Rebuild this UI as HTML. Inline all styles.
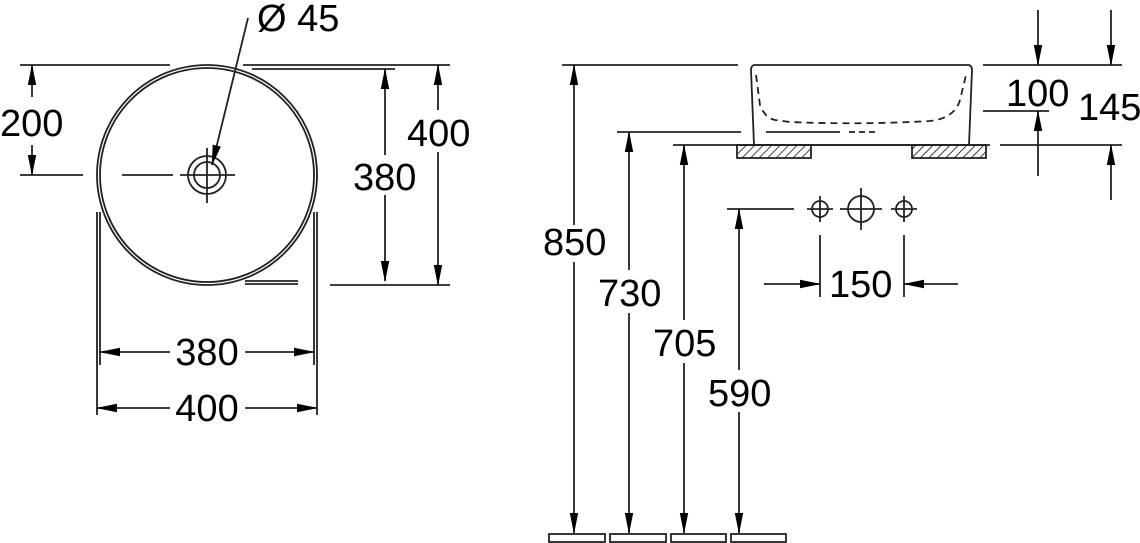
<!DOCTYPE html>
<html><head><meta charset="utf-8"><style>
html,body{margin:0;padding:0;background:#fff;}
svg{display:block;}
text{font-family:"Liberation Sans",sans-serif;font-size:38px;fill:#000;}
</style></head><body>
<svg width="1140" height="543" viewBox="0 0 1140 543" xmlns="http://www.w3.org/2000/svg">
<defs>
<marker id="a" markerWidth="22" markerHeight="10" refX="20" refY="5" orient="auto" markerUnits="userSpaceOnUse" viewBox="0 0 22 10">
<path d="M0,0.8 L21,5 L0,9.2 z" fill="#000"/></marker>
<pattern id="h" width="6" height="6" patternUnits="userSpaceOnUse" patternTransform="rotate(45)"><line x1="0" y1="0" x2="0" y2="6" stroke="#000" stroke-width="1.5"/></pattern>
</defs>
<g stroke="#222" stroke-width="1.8" fill="none">
<circle cx="207" cy="175" r="110"/>
<circle cx="207" cy="175" r="107"/>
<circle cx="207" cy="175" r="19"/>
<circle cx="207" cy="175" r="13"/>
<line x1="20" y1="65" x2="170" y2="65"/>
<line x1="243" y1="65" x2="450" y2="65"/>
<line x1="252" y1="69" x2="395" y2="69"/>
<line x1="330" y1="285" x2="450" y2="285"/>
<line x1="245" y1="281" x2="298" y2="281"/>
<line x1="245" y1="284" x2="298" y2="284"/>
<line x1="20" y1="175" x2="83" y2="175"/>
<line x1="122" y1="175" x2="173" y2="175"/>
<line x1="180" y1="175" x2="235" y2="175"/>
<line x1="207" y1="148" x2="207" y2="203"/>
<line x1="97" y1="212" x2="97" y2="415"/>
<line x1="100" y1="212" x2="100" y2="365"/>
<line x1="314" y1="212" x2="314" y2="365"/>
<line x1="317" y1="212" x2="317" y2="415"/>
<line x1="32" y1="97" x2="32" y2="65" marker-end="url(#a)"/>
<line x1="32" y1="145" x2="32" y2="175" marker-end="url(#a)"/>
<line x1="385" y1="155" x2="385" y2="69" marker-end="url(#a)"/>
<line x1="385" y1="195" x2="385" y2="281" marker-end="url(#a)"/>
<line x1="438" y1="110" x2="438" y2="65" marker-end="url(#a)"/>
<line x1="438" y1="152" x2="438" y2="285" marker-end="url(#a)"/>
<line x1="170" y1="352" x2="100" y2="352" marker-end="url(#a)"/>
<line x1="245" y1="352" x2="314" y2="352" marker-end="url(#a)"/>
<line x1="170" y1="408" x2="97" y2="408" marker-end="url(#a)"/>
<line x1="245" y1="408" x2="317" y2="408" marker-end="url(#a)"/>
<line x1="248" y1="18" x2="212" y2="165" marker-end="url(#a)"/>
<line x1="562" y1="65" x2="738" y2="65"/>
<path d="M754,65 L969,65 Q972,66 972,70 L969,145 L754,145 L751,70 Q751,66 754,65 z"/>
<path d="M756,75 L760,105 Q765,118 775,120 L790,122 Q860,125 930,121 Q955,118 960,100 L966,75" stroke-dasharray="7,5"/>
<line x1="723" y1="145" x2="990" y2="145"/>
<rect x="737" y="145" width="74" height="13" fill="url(#h)"/>
<rect x="912" y="145" width="74" height="13" fill="url(#h)"/>
<line x1="983" y1="65" x2="1122" y2="65"/>
<line x1="983" y1="111" x2="1049" y2="111"/>
<line x1="1000" y1="145" x2="1122" y2="145"/>
<line x1="617" y1="132" x2="741" y2="132"/>
<line x1="766" y1="132" x2="840" y2="132"/>
<line x1="849" y1="132" x2="875" y2="132" stroke-dasharray="6,4"/>
<line x1="673" y1="145" x2="723" y2="145"/>
<line x1="727" y1="209" x2="794" y2="209"/>
<line x1="1038" y1="10" x2="1038" y2="65" marker-end="url(#a)"/>
<line x1="1111" y1="10" x2="1111" y2="65" marker-end="url(#a)"/>
<line x1="1038" y1="176" x2="1038" y2="111" marker-end="url(#a)"/>
<line x1="1111" y1="200" x2="1111" y2="145" marker-end="url(#a)"/>
<circle cx="820" cy="209" r="8"/><circle cx="861" cy="209" r="13"/><circle cx="904" cy="209" r="8"/>
<line x1="807" y1="209" x2="833" y2="209"/><line x1="820" y1="196" x2="820" y2="222"/>
<line x1="840" y1="209" x2="882" y2="209"/><line x1="861" y1="188" x2="861" y2="230"/>
<line x1="891" y1="209" x2="917" y2="209"/><line x1="904" y1="196" x2="904" y2="222"/>
<line x1="820" y1="235" x2="820" y2="297"/>
<line x1="904" y1="235" x2="904" y2="297"/>
<line x1="764" y1="284" x2="820" y2="284" marker-end="url(#a)"/>
<line x1="958" y1="284" x2="904" y2="284" marker-end="url(#a)"/>
<line x1="574" y1="225" x2="574" y2="65" marker-end="url(#a)"/>
<line x1="574" y1="262" x2="574" y2="533" marker-end="url(#a)"/>
<line x1="629" y1="270" x2="629" y2="132" marker-end="url(#a)"/>
<line x1="629" y1="313" x2="629" y2="533" marker-end="url(#a)"/>
<line x1="684" y1="320" x2="684" y2="145" marker-end="url(#a)"/>
<line x1="684" y1="363" x2="684" y2="533" marker-end="url(#a)"/>
<line x1="739" y1="370" x2="739" y2="209" marker-end="url(#a)"/>
<line x1="739" y1="412" x2="739" y2="533" marker-end="url(#a)"/>
<rect x="549" y="534" width="56" height="8"/>
<rect x="610" y="534" width="56" height="8"/>
<rect x="671" y="534" width="55" height="8"/>
<rect x="731" y="534" width="55" height="8"/>
</g>
<text x="257" y="31" font-size="32">Ø 45</text>
<text x="0" y="136">200</text>
<text x="353" y="190">380</text>
<text x="407" y="146">400</text>
<text x="207" y="365" text-anchor="middle">380</text>
<text x="207" y="421" text-anchor="middle">400</text>
<text x="543" y="255">850</text>
<text x="598" y="306">730</text>
<text x="653" y="356">705</text>
<text x="708" y="406">590</text>
<text x="829" y="297">150</text>
<text x="1006" y="106">100</text>
<text x="1078" y="120">145</text>
</svg>
</body></html>
